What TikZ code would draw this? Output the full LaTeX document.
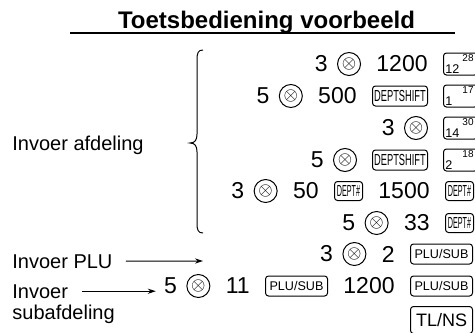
\documentclass[tikz,border=0pt]{standalone}
\usepackage{fontspec}
\usepackage{graphicx}
\setmainfont{Liberation Sans}
\usetikzlibrary{arrows.meta,positioning}
\tikzset{
  num/.style={font=\fontsize{11.5}{12}\selectfont, inner sep=0pt},
  mul/.style={circle, draw, line width=0.5pt, minimum size=11.5pt, inner sep=0pt, font=\fontsize{9}{9}\selectfont},
  key/.style={draw, line width=0.5pt, rounded corners=1.5pt, inner sep=0pt},
  subkey/.style={key, minimum width=31pt, minimum height=10pt, font=\fontsize{6.3}{6.3}\selectfont},
  deptkey/.style={key, minimum width=14pt, minimum height=9.5pt, font=\fontsize{8}{8}\selectfont},
  shiftkey/.style={key, minimum width=27.5pt, minimum height=10pt, font=\fontsize{8}{8}\selectfont},
  numkey/.style={key, minimum width=17pt, minimum height=11pt},
  numlo/.style={anchor=south west, inner sep=1pt, font=\fontsize{6.3}{6.3}\selectfont},
  numhi/.style={anchor=north east, inner sep=1pt, xshift=-1pt, font=\fontsize{5}{5}\selectfont},
  lbl/.style={font=\fontsize{10}{10.5}\selectfont, inner sep=0pt, anchor=base west},
  pointer/.style={-{Stealth[length=4pt,width=2.6pt]}, line width=0.5pt},
  node distance=7.5pt,
}
\newcommand{\narrow}[2]{\scalebox{#1}[1]{#2}}
\begin{document}
\begin{tikzpicture}[x=0.5pt,y=-0.5pt]
  \useasboundingbox (0,0) rectangle (475,332);
  \clip (0,0) rectangle (475,332);
  % title
  \node[font=\fontsize{12}{12}\selectfont\bfseries, anchor=base, inner sep=0pt] (title) at (266.5,28) {Toetsbediening voorbeeld};
  \draw[line width=0.6pt] (70,33) -- (455,33);
  % labels on the left
  \node[lbl] (afd) at (12,150) {Invoer afdeling};
  \node[lbl] (plu) at (12,268) {Invoer PLU};
  \node[lbl] (sub1) at (12,298) {Invoer};
  \node[lbl] (sub2) at (12,319) {subafdeling};
  \draw[line width=0.5pt] (203,50) .. controls (198,50) and (197,53) .. (197,60) -- (197,134)
    .. controls (197,140) and (195,143) .. (190,143) .. controls (195,143) and (197,146) .. (197,152)
    -- (197,223) .. controls (197,230) and (198,233) .. (203,233);
  % row 1
  \node[numkey, anchor=west] (r1d) at (443,64) {};
  \node[numlo] (r1dl) at (r1d.south west) {12};
  \node[numhi] (r1dh) at (r1d.north east) {28};
  \node[num, left=of r1d] (r1c) {1200};
  \node[mul, left=of r1c] (r1b) {$\otimes$};
  \node[num, left=4.5pt of r1b] (r1a) {3};
  % row 2
  \node[numkey, anchor=west] (r2e) at (443,96) {};
  \node[numlo] (r2el) at (r2e.south west) {1};
  \node[numhi] (r2eh) at (r2e.north east) {17};
  \node[shiftkey, left=of r2e] (r2d) {\narrow{0.58}{DEPTSHIFT}};
  \node[num, left=of r2d] (r2c) {500};
  \node[mul, left=of r2c] (r2b) {$\otimes$};
  \node[num, left=4.5pt of r2b] (r2a) {5};
  % row 3
  \node[numkey, anchor=west] (r3c) at (443,128) {};
  \node[numlo] (r3cl) at (r3c.south west) {14};
  \node[numhi] (r3ch) at (r3c.north east) {30};
  \node[mul, left=of r3c] (r3b) {$\otimes$};
  \node[num, left=4.5pt of r3b] (r3a) {3};
  % row 4
  \node[numkey, anchor=west] (r4d) at (443,160) {};
  \node[numlo] (r4dl) at (r4d.south west) {2};
  \node[numhi] (r4dh) at (r4d.north east) {18};
  \node[shiftkey, left=of r4d] (r4c) {\narrow{0.58}{DEPTSHIFT}};
  \node[mul, left=of r4c] (r4b) {$\otimes$};
  \node[num, left=4.5pt of r4b] (r4a) {5};
  % row 5
  \node[deptkey, anchor=west] (r5f) at (445,191) {\narrow{0.45}{DEPT\#}};
  \node[num, left=of r5f] (r5e) {1500};
  \node[deptkey, left=of r5e] (r5d) {\narrow{0.45}{DEPT\#}};
  \node[num, left=of r5d] (r5c) {50};
  \node[mul, left=of r5c] (r5b) {$\otimes$};
  \node[num, left=4.5pt of r5b] (r5a) {3};
  % row 6
  \node[deptkey, anchor=west] (r6d) at (445,223) {\narrow{0.45}{DEPT\#}};
  \node[num, left=of r6d] (r6c) {33};
  \node[mul, left=of r6c] (r6b) {$\otimes$};
  \node[num, left=4.5pt of r6b] (r6a) {5};
  % row 7
  \node[subkey, anchor=west] (r7d) at (410,254) {PLU/SUB};
  \node[num, left=of r7d] (r7c) {2};
  \node[mul, left=of r7c] (r7b) {$\otimes$};
  \node[num, left=4.5pt of r7b] (r7a) {3};
  \coordinate (pluend) at (203,261);
  \draw[pointer, shorten <=6.5pt] (plu) -- (pluend);
  % row 8
  \node[subkey, anchor=west] (r8f) at (410,286) {PLU/SUB};
  \node[num, left=of r8f] (r8e) {1200};
  \node[subkey, left=of r8e] (r8d) {PLU/SUB};
  \node[num, left=of r8d] (r8c) {11};
  \node[mul, left=of r8c] (r8b) {$\otimes$};
  \node[num, left=4.5pt of r8b] (r8a) {5};
  \draw[pointer, shorten <=7pt, shorten >=4pt] (sub1.east) -- (sub1.east -| r8a.west);
  % row 9
  \node[key, anchor=west, minimum width=31pt, minimum height=13.5pt, font=\fontsize{9}{9}\selectfont] (r9a) at (410,320) {TL/NS};
\end{tikzpicture}
\end{document}
